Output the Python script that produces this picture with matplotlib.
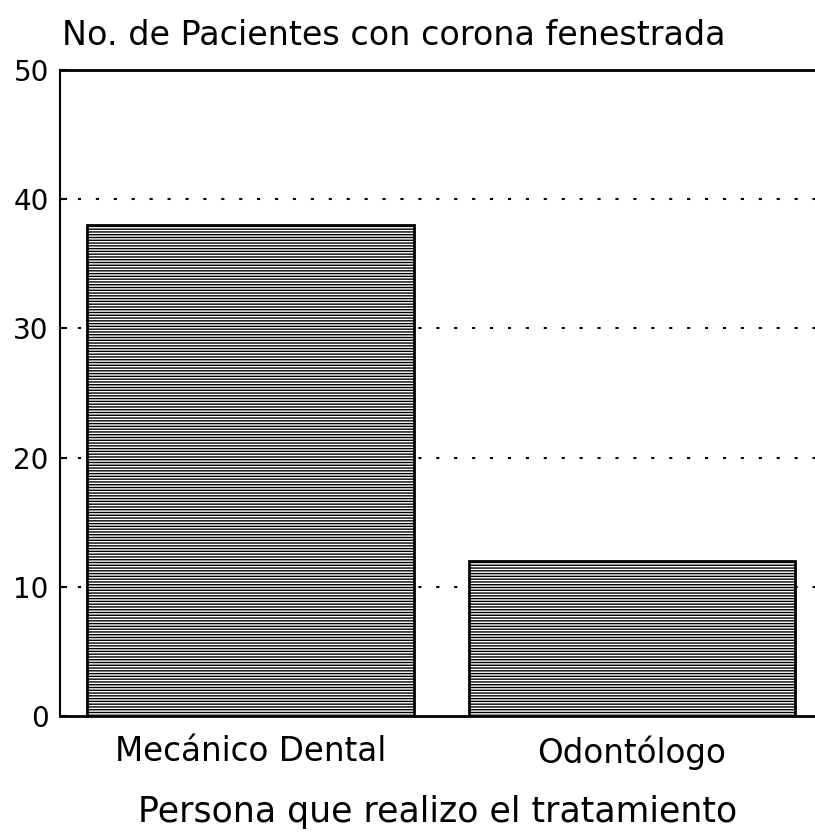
import matplotlib
matplotlib.use('Agg')
import matplotlib.pyplot as plt

categorias = ['Mecánico Dental', 'Odontólogo']
pacientes = [38, 12]
y_ticks = [0, 10, 20, 30, 40, 50]

plt.rcParams['font.family'] = ['DejaVu Sans']
plt.rcParams['hatch.linewidth'] = 1.0

fig = plt.figure(figsize=(8.15, 8.36), dpi=100)
ax = fig.add_axes([0.0736, 0.1435, 0.926, 0.7727])

pos = list(range(len(categorias)))
ax.bar(pos, pacientes, width=0.856, color='white', edgecolor='black',
       linewidth=2, hatch='------', zorder=2)

ax.set_xlim(-0.5, 1.48)
ax.set_ylim(0, 50)
ax.set_yticks(y_ticks)
ax.set_yticklabels([str(t) for t in y_ticks], fontsize=20)
ax.set_xticks(pos)
ax.set_xticklabels(categorias, fontsize=23.5)
ax.tick_params(axis='x', length=0, pad=14)
ax.tick_params(axis='y', direction='in', length=5, width=1.5, pad=8)

# lineas punteadas de referencia
for t in y_ticks[1:-1]:
    ax.axhline(t, color='black', linestyle=(0, (1.5, 7.1)), linewidth=1.5, zorder=1)

ax.spines['right'].set_visible(False)
ax.spines['top'].set_linewidth(2)
ax.spines['left'].set_linewidth(1.5)
ax.spines['bottom'].set_linewidth(2)

ax.set_xlabel('Persona que realizo el tratamiento', fontsize=25, labelpad=18)
fig.text(0.076, 0.958, 'No. de Pacientes con corona fenestrada', fontsize=24,
         ha='left', va='center')

fig.savefig('out.png', dpi=100)
